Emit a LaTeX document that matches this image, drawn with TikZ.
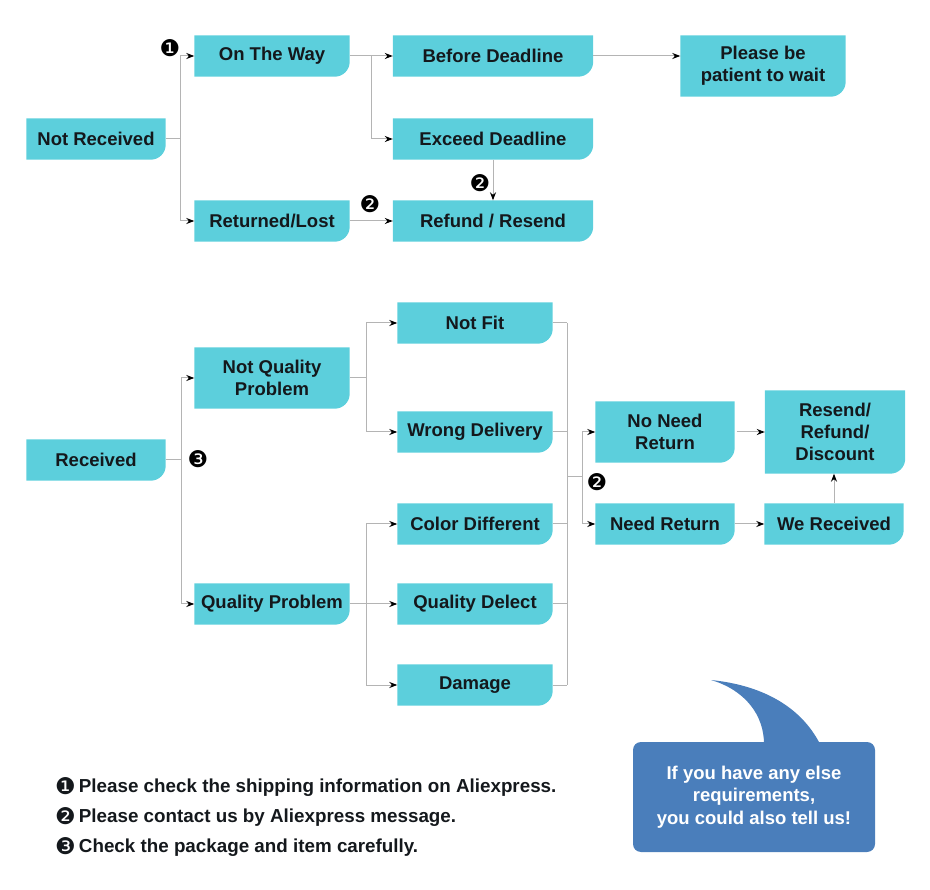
\documentclass[tikz,border=0pt]{standalone}
\usepackage{fontspec}
\setmainfont{Liberation Sans}
\newfontfamily\dejavu{DejaVu Sans}
\usetikzlibrary{arrows.meta,backgrounds}
\definecolor{boxfill}{RGB}{92,207,220}
\definecolor{ink}{RGB}{20,24,28}
\definecolor{wire}{RGB}{180,180,180}
\definecolor{bubblefill}{RGB}{74,126,187}

\begin{document}
\begin{tikzpicture}[x=1pt,y=-1pt,
  box/.style={inner sep=0pt, minimum height=41pt, align=center, text=ink, font=\bfseries\fontsize{18.5}{22}\selectfont},
  bs/.style={box, minimum width=139pt},
  bm/.style={box, minimum width=155pt},
  bl/.style={box, minimum width=200pt},
  badge/.style={inner sep=0pt, text=black, font=\dejavu\fontsize{23}{23}\selectfont},
  note/.style={anchor=west, inner sep=0pt, text=ink, font=\bfseries\fontsize{18.8}{22}\selectfont},
  wire/.style={draw=wire, line width=1pt},
  arr/.style={wire, -{Stealth[black,length=8pt,width=6pt]}}]
\useasboundingbox (0,0) rectangle (930,890);

% Boxes
\node[bs] (nrec) at (96,139) {Not Received};
\node[bm] (otw) at (272,56) {On The Way};
\node[bm] (rlost) at (272,221) {Returned/Lost};
\node[bl] (bdl) at (493,56) {Before Deadline};
\node[bl] (edl) at (493,139) {Exceed Deadline};
\node[bl] (rres) at (493,221) {Refund / Resend};
\node[box, minimum width=165pt, minimum height=61pt] (patient) at (763,66) {Please be\\patient to wait};
\node[bs] (rec) at (96,460) {Received};
\node[bm, minimum height=61pt] (nqp) at (272,378) {Not Quality\\Problem};
\node[bm] (qp) at (272,604) {Quality Problem};
\node[bm] (nfit) at (475,323) {Not Fit};
\node[bm] (wdel) at (475,432) {Wrong Delivery};
\node[bm] (cdiff) at (475,524) {Color Different};
\node[bm] (qdel) at (475,604) {Quality Delect};
\node[bm] (dmg) at (475,685) {Damage};
\node[bs, minimum height=61pt] (nnr) at (665,432) {No Need\\Return};
\node[bs] (needr) at (665,524) {Need Return};
\node[bs] (wrec) at (834,524) {We Received};
\node[box, minimum width=140pt, minimum height=83pt] (rrd) at (835,432) {Resend/\\Refund/\\Discount};

%Faces
\begin{scope}[on background layer]
\foreach \b in {nrec,otw,rlost,bdl,edl,rres,patient,rec,nqp,qp,nfit,wdel,cdiff,qdel,dmg,nnr,needr,wrec,rrd}
  \fill[boxfill] (\b.north west) -- (\b.north east) -- ([yshift=15pt]\b.south east)
    arc[start angle=0, end angle=-90, radius=15pt] -- (\b.south west) -- cycle;
\end{scope}

%Lines
\draw[wire] (nrec.east) -- ++(15,0) coordinate (j1);
\draw[arr] (j1) |- (otw.west);
\draw[arr] (j1) |- (rlost.west);
\draw[wire] (otw.east) -- ++(22,0) coordinate (j2);
\draw[arr] (j2) -- (bdl.west);
\draw[arr] (j2) |- (edl.west);
\draw[arr] (bdl.east) -- (bdl.east -| patient.west);
\draw[arr] (edl.south) -- (rres.north);
\draw[arr] (rlost.east) -- (rres.west);

\draw[wire] (rec.east) -- ++(16,0) coordinate (j3);
\draw[arr] (j3) |- (nqp.west);
\draw[arr] (j3) |- (qp.west);
\draw[wire] (nqp.east) -- ++(17,0) coordinate (j4);
\draw[arr] (j4) |- (nfit.west);
\draw[arr] (j4) |- (wdel.west);
\draw[wire] (qp.east) -- ++(17,0) coordinate (j5);
\draw[arr] (j5) |- (cdiff.west);
\draw[arr] (j5) -- (qdel.west);
\draw[arr] (j5) |- (dmg.west);

\coordinate (mtop) at (567,323);
\coordinate (mbot) at (567,685);
\foreach \b in {nfit,wdel,cdiff,qdel,dmg}
  \draw[wire] (\b.east) -- (\b.east -| mtop);
\draw[wire] (mtop) -- (mbot);
\coordinate (mout) at (567,477);
\draw[wire] (mout) -- ++(15,0) coordinate (j6);
\draw[arr] (j6) |- (nnr.west);
\draw[arr] (j6) |- (needr.west);
\draw[arr] ([xshift=2pt]nnr.east) -- (nnr.east -| rrd.west);
\draw[arr] (needr.east) -- (wrec.west);
\draw[arr] (wrec.north) -- (wrec.north |- rrd.south);

% Badges
\node[badge] (b1) at (170,48) {❶};
\node[badge] (b2) at (480,183) {❷};
\node[badge] (b3) at (370,204) {❷};
\node[badge] (b4) at (198,459) {❸};
\node[badge] (b5) at (597,482) {❷};

% Notes
\node[note] (l1) at (55,787) {\raisebox{-2pt}{\dejavu\mdseries\fontsize{23}{23}\selectfont ❶}\,Please check the shipping information on Aliexpress.};
\node[note] (l2) at (55,817) {\raisebox{-2pt}{\dejavu\mdseries\fontsize{23}{23}\selectfont ❷}\,Please contact us by Aliexpress message.};
\node[note] (l3) at (55,847) {\raisebox{-2pt}{\dejavu\mdseries\fontsize{23}{23}\selectfont ❸}\,Check the package and item carefully.};

% Bubble
\fill[bubblefill, rounded corners=8pt] (633,742) rectangle (875,852);
\fill[bubblefill] (764,744) .. controls (764,715) and (745,690) .. (711,680)
  .. controls (760,685) and (800,705) .. (820,744) -- cycle;
\node[align=center, text=white, font=\bfseries\fontsize{18.5}{22.5}\selectfont] (bubble) at (754,797) {If you have any else\\requirements,\\you could also tell us!};
\end{tikzpicture}
\end{document}
